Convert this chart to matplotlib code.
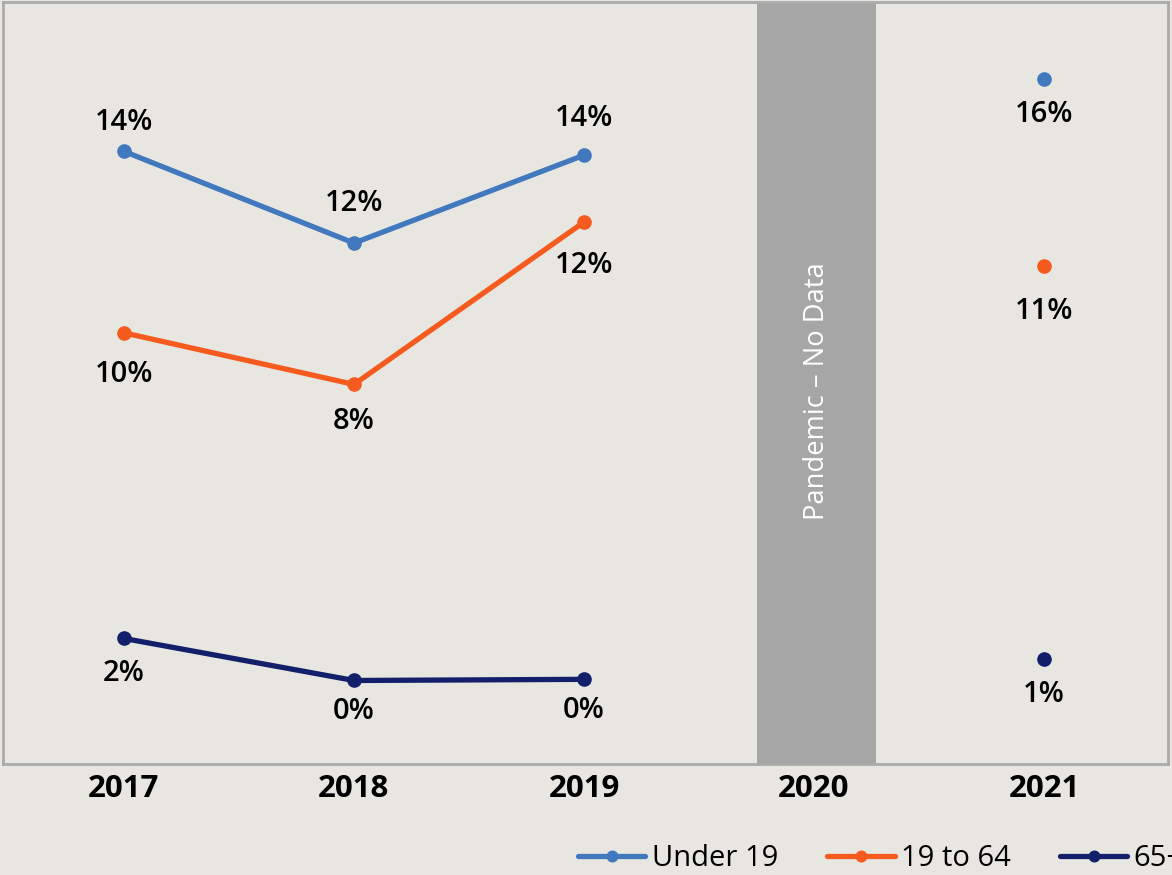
import numpy as np
import matplotlib
matplotlib.use("Agg")
import matplotlib.pyplot as plt

plt.rcParams['font.family'] = ['Open Sans', 'DejaVu Sans']

years = ["2017", "2018", "2019", "2020", "2021"]
series_names = ["Under 19", "19 to 64", "65+"]
under19 = [14.3, 11.9, 14.2, np.nan, 16.2]
age19_64 = [9.55, 8.2, 12.45, np.nan, 11.3]
age65 = [1.55, 0.45, 0.48, np.nan, 1.0]
gap_label = "Pandemic – No Data"
gap_year = "2020"

colors = ["#4178BE", "#F55A1E", "#121F6B"]
bg = "#E8E6E1"

fig = plt.figure(figsize=(11.72, 8.75), dpi=100)
fig.patch.set_facecolor(bg)
ax = fig.add_axes([3/1172, (875-764)/875, (1168-3)/1172, (764-2)/875])
ax.set_facecolor(bg)

x = np.arange(len(years))
gi = years.index(gap_year)
ax.axvspan(gi - 0.25, gi + 0.27, color="#A6A6A6", zorder=1, lw=0)
ax.text(gi + 0.015, 8.03, gap_label, rotation=90, color="white", fontsize=19.7,
        ha="center", va="center", zorder=2)

# label offsets in points
offsets = [
    [20.5, 28.5, 26.5, None, -25.7],
    [-30, -27, -31.5, None, -32.5],
    [-25, -22, -22.5, None, -25],
]
for vals, c, name, offs in zip([under19, age19_64, age65], colors, series_names, offsets):
    ax.plot(x, vals, color=c, lw=3.8, marker="o", markersize=9.5, label=name,
            solid_capstyle="round", zorder=3)
    for xi, v, o in zip(x, vals, offs):
        if np.isnan(v):
            continue
        ax.annotate(f"{v:.0f}%", (xi, v), xytext=(0, o), textcoords="offset points",
                    ha="center", va="center", fontsize=21, fontweight="semibold",
                    color="black", zorder=4)

ax.set_xlim(-0.526, 4.539)
ax.set_ylim(-1.736, 18.21)
ax.set_yticks([])
ax.set_xticks(x)
ax.set_xticklabels(years, fontsize=22.5, fontweight="bold")
ax.tick_params(axis="x", length=0, pad=7)
for s in ax.spines.values():
    s.set_color("#AAAAAA")
    s.set_linewidth(2)

fig.legend(loc="center left", bbox_to_anchor=(578/1172, 1 - 859/875), ncol=3,
           frameon=False, fontsize=21, handlelength=2.3, handletextpad=0.22,
           columnspacing=1.7, borderpad=0, borderaxespad=0, markerscale=0.8)

fig.savefig("out.png", dpi=100, facecolor=bg)
